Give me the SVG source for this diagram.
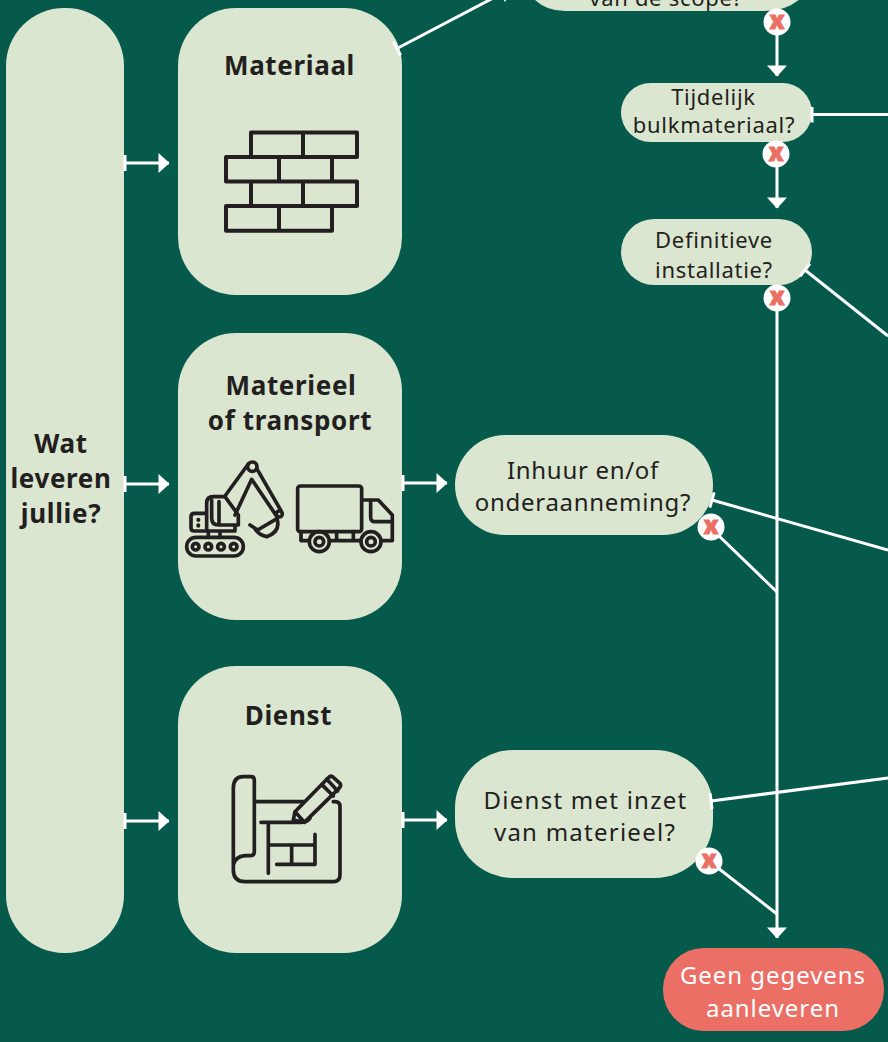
<svg xmlns="http://www.w3.org/2000/svg" width="888" height="1042" viewBox="0 0 888 1042">
<style>
.p{fill:#dae6cf}
.t{font-family:"Noto Sans","Liberation Sans",sans-serif;font-size:24px;fill:#231f20;text-anchor:middle;letter-spacing:.7px}
.s{font-size:22px;letter-spacing:.7px}
.l{letter-spacing:1.25px}
.f{fill:#fff;letter-spacing:.95px}
.b{font-weight:700;font-size:26px;letter-spacing:.65px}
.c{fill:none;stroke:#fff;stroke-width:3}
.e{marker-start:url(#tee)}
.h{marker-end:url(#head)}
.i{fill:none;stroke:#231f20;stroke-linecap:round;stroke-linejoin:round}
.x{font-family:"Inter","Liberation Sans",sans-serif;font-weight:900;font-size:25px;fill:#ec6f66;stroke:#ec6f66;stroke-width:.8;text-anchor:middle}
</style>
<defs>
<marker id="head" markerUnits="userSpaceOnUse" markerWidth="14" markerHeight="22" refX="12" refY="11" orient="auto" viewBox="0 0 14 22"><path d="M1.500 1L12.500 11L1.500 21Z" fill="#fff"/></marker>
<marker id="tee" markerUnits="userSpaceOnUse" markerWidth="4" markerHeight="16" refX="2" refY="8" orient="auto" viewBox="0 0 4 16"><path d="M2 0V16" stroke="#fff" stroke-width="3"/></marker>
<circle id="xb" r="13.500" fill="#fff"/>
</defs>
<rect width="888" height="1042" fill="#065a4c"/>
<g id="n-wat"><rect class="p" x="6" y="8" width="118" height="945" rx="58"/>
<text class="t b" x="61" y="453">Wat</text><text class="t b" x="61" y="488">leveren</text><text class="t b" x="61" y="523">jullie?</text></g>
<g id="n-materiaal"><rect class="p" x="178" y="8" width="224" height="287" rx="58"/>
<text class="t b" x="289.500" y="75">Materiaal</text>
<path class="i" stroke-width="4" d="M251 157V132.500H357V157H226V181.500H332V157M226 181.500H357V206H226V230.700H332V206M251 181.500V206M303 132.500V157M279 157V181.500M303 181.500V206M279 206V230.700"/></g>
<g id="n-materieel"><rect class="p" x="178" y="333" width="224" height="287" rx="58"/>
<text class="t b" x="291" y="395">Materieel</text><text class="t b" x="290" y="430">of transport</text>
<g class="i" stroke-width="11" transform="translate(175 450) scale(.3333)">
<rect x="35" y="262" width="170" height="56" rx="28"/><circle cx="62" cy="290" r="10"/><circle cx="100" cy="290" r="10"/><circle cx="138" cy="290" r="10"/><circle cx="176" cy="290" r="10"/>
<path d="M100 245V262M135 245V262M95 243H180V226M95 243V160Q95 140 115 140H150L190 195V225H130Q110 225 110 205V150M132 155V220M95 190H58Q48 190 48 200V233Q48 243 58 243H95"/>
<path d="M70 209V210M70 226V227" stroke-width="12"/>
<path d="M150 138L220 42M180 195L230 88L306 200M245 55L318 182"/>
<circle cx="232" cy="50" r="14"/><circle cx="313" cy="192" r="9"/>
<path d="M225 225L248 240L306 206Q318 245 275 260Q250 255 240 236"/>
<rect x="368" y="108" width="192" height="137" rx="8"/>
<path d="M560 150H610L652 195V272H620M587 155V200Q587 215 600 215H652M378 245V272H403M463 272H556M485 245V272M535 245V272"/>
<circle cx="433" cy="275" r="30"/><circle cx="433" cy="275" r="13"/><circle cx="588" cy="275" r="30"/><circle cx="588" cy="275" r="13"/>
</g></g>
<g id="n-dienst"><rect class="p" x="178" y="666" width="224" height="287" rx="58"/>
<text class="t b" x="288.500" y="725">Dienst</text>
<g class="i" stroke-width="11" transform="translate(215 765) scale(.3333)">
<path d="M118 110V45Q118 35 108 35H85Q55 35 55 70V315Q55 350 90 350H355Q375 350 375 330V125Q375 110 360 110H355M118 110H265M55 300Q60 275 90 272H105Q118 272 118 260V110"/>
<path d="M138 172H260Q275 172 285 160M160 172V325M160 240H300M300 208V298H185M230 240V298"/>
<path d="M235 165L240 140L340 38Q348 30 355 37L375 55Q380 62 372 70L268 172L235 165ZM240 140L268 172M320 58L355 93M335 42L368 78"/>
</g></g>
<g id="n-scope"><path class="p" d="M534 -1H800Q786 11 765 11H565Q546 11 534 -1Z"/><text class="t s" x="666" y="6">van de scope?</text></g>
<g id="n-tijdelijk"><rect class="p" x="621" y="83" width="191" height="59" rx="29.500"/><text class="t s" x="713.500" y="105">Tijdelijk</text><text class="t s" x="714" y="133">bulkmateriaal?</text></g>
<g id="n-definitief"><rect class="p" x="621" y="219" width="191" height="66" rx="33"/><text class="t s" x="714" y="248">Definitieve</text><text class="t s" x="714" y="278">installatie?</text></g>
<g id="n-inhuur"><rect class="p" x="455" y="435" width="258" height="100" rx="50"/><text class="t" x="583" y="479">Inhuur en/of</text><text class="t" x="583" y="511">onderaanneming?</text></g>
<g id="n-dienstmet"><rect class="p" x="455" y="750" width="258" height="128" rx="58"/><text class="t l" x="585.500" y="809">Dienst met inzet</text><text class="t l" x="585" y="841">van materieel?</text></g>
<g id="n-geen"><rect x="663" y="948" width="221" height="83" rx="41" fill="#ec6f66"/><text class="t f" x="773" y="984">Geen gegevens</text><text class="t f" x="773" y="1017">aanleveren</text></g>
<g id="connectors">
<path class="c e h" d="M125 163H169"/>
<path class="c e h" d="M125 484H169"/>
<path class="c e h" d="M125 821H169"/>
<path class="c e h" d="M403 483H447"/>
<path class="c e h" d="M403 820H447"/>
<path class="c h" d="M777 30V76"/>
<path class="c h" d="M777 162V208"/>
<path class="c h" d="M777 306V938"/>
<path class="c e" d="M397 48.500L497-4"/>
<path fill="#fff" d="M502-3L505 2L508-3Z"/>
<path class="c e" d="M812 114.500H888"/>
<path class="c e" d="M805 270L888 336"/>
<path class="c e" d="M712 500L888 550"/>
<path class="c e" d="M711 801L888 778"/>
<path class="c" d="M718 535L777 592"/>
<path class="c" d="M718 868L777 914"/>
</g>
<g id="crosses">
<use href="#xb" x="777" y="22"/><text class="x" x="777" y="29">x</text>
<use href="#xb" x="776" y="154"/><text class="x" x="776" y="161">x</text>
<use href="#xb" x="777" y="298"/><text class="x" x="777" y="305">x</text>
<use href="#xb" x="711" y="527"/><text class="x" x="711" y="534">x</text>
<use href="#xb" x="709" y="861"/><text class="x" x="709" y="868">x</text>
</g>
</svg>
